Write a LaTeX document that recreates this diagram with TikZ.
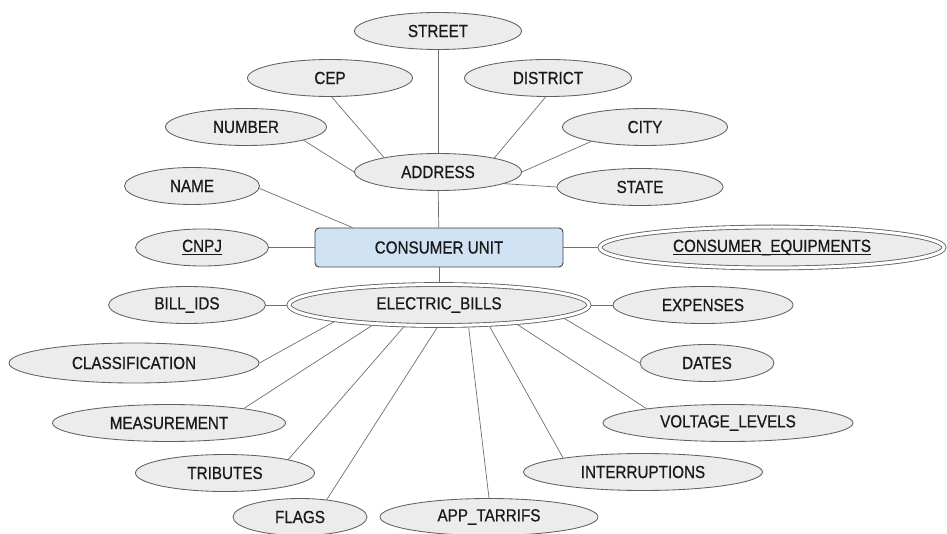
\documentclass[tikz,border=0pt]{standalone}
\usepackage{fontspec}
\newfontfamily\erfont{Liberation Sans}[FakeStretch=0.87, FakeBold=0.6]
\usetikzlibrary{shapes.geometric}
\definecolor{attrfill}{RGB}{236,236,236}
\definecolor{unitfill}{RGB}{208,226,243}
\definecolor{edgegray}{RGB}{110,110,110}
\newcommand{\keytext}[1]{\setbox0=\hbox{#1}\rlap{\raisebox{-3.4pt}{\rule{\wd0}{1.4pt}}}\box0}

\begin{document}
\begin{tikzpicture}[
    x=1pt, y=-1pt,
    attr/.style={ellipse, draw=black!62, fill=attrfill, line width=0.85pt, minimum height=37, inner sep=0pt, text=black!90, font={\erfont\fontsize{17.5}{21}\selectfont}},
    multiattr/.style={attr, double, double distance=3pt, outer sep=2.3pt, minimum height=41},
    entity/.style={rectangle, rounded corners=4pt, draw=black!75, fill=unitfill, line width=0.9pt, minimum width=248, minimum height=39, text=black!90, font={\erfont\fontsize{17.5}{21}\selectfont}},
    link/.style={draw=edgegray, line width=0.7pt}
]
    \useasboundingbox (0,0) rectangle (947,534);

    % Entity
    \node[entity] (cu) at (439,247.5) {CONSUMER UNIT};

    % Address and its parts
    \node[attr, minimum width=167] (address) at (438,172) {ADDRESS};
    \node[attr, minimum width=167] (street) at (438,31) {STREET};
    \node[attr, minimum width=165] (cep) at (330,78) {CEP};
    \node[attr, minimum width=167] (district) at (548,78) {DISTRICT};
    \node[attr, minimum width=161] (number) at (246,127) {NUMBER};
    \node[attr, minimum width=165] (city) at (645,127) {CITY};
    \node[attr, minimum width=166] (state) at (640,187) {STATE};

    % Simple attributes
    \node[attr, minimum width=135] (name) at (192,186) {NAME};
    \node[attr, minimum width=133] (cnpj) at (202,247.5) {\keytext{CNPJ}};
    \node[multiattr, minimum width=344] (equip) at (772,247.5) {\keytext{CONSUMER\_EQUIPMENTS}};

    % Electric bills and its parts
    \node[multiattr, minimum width=300] (bills) at (439,305) {ELECTRIC\_BILLS};
    \node[attr, minimum width=157] (billids) at (187,305) {BILL\_IDS};
    \node[attr, minimum width=180] (expenses) at (703,305) {EXPENSES};
    \node[attr, minimum width=250, minimum height=40] (classif) at (134,363) {CLASSIFICATION};
    \node[attr, minimum width=134] (dates) at (707,363) {DATES};
    \node[attr, minimum width=233] (measure) at (169,423) {MEASUREMENT};
    \node[attr, minimum width=250] (voltage) at (728,423) {VOLTAGE\_LEVELS};
    \node[attr, minimum width=179] (tributes) at (225,473) {TRIBUTES};
    \node[attr, minimum width=239] (interrupt) at (643,472) {INTERRUPTIONS};
    \node[attr, minimum width=134] (flags) at (300,517) {FLAGS};
    \node[attr, minimum width=218] (tarrifs) at (489,517) {APP\_TARRIFS};

    % Edges around the address
    \draw[link] (street) -- (address);
    \draw[link] (cep.-85) -- (address.165);
    \draw[link] (number.-13) -- (address.west);
    \draw[link] (district.-97) -- (address.14);
    \draw[link] (city.-165) -- (address.east);
    \draw[link] (state.west) -- (address.-10);

    % Edges around the entity
    \draw[link] (address) -- (cu);
    \draw[link] (name.-2) -- (cu.167);
    \draw[link] (cnpj) -- (cu);
    \draw[link] (cu) -- (equip);
    \draw[link] (cu) -- (bills);

    % Edges around the bills
    \draw[link] (billids) -- (bills);
    \draw[link] (bills) -- (expenses);
    \draw[link] (bills.189) -- (classif.east);
    \draw[link] (bills.-163) -- (measure.11);
    \draw[link] (bills.-148) -- (tributes.12);
    \draw[link] (bills.-95) -- (flags.33);
    \draw[link] (bills.-37) -- (tarrifs.north);
    \draw[link] (bills.-23) -- (interrupt.170);
    \draw[link] (bills.-14) -- (voltage.170);
    \draw[link] (bills.-6) -- (dates.west);
\end{tikzpicture}
\end{document}
